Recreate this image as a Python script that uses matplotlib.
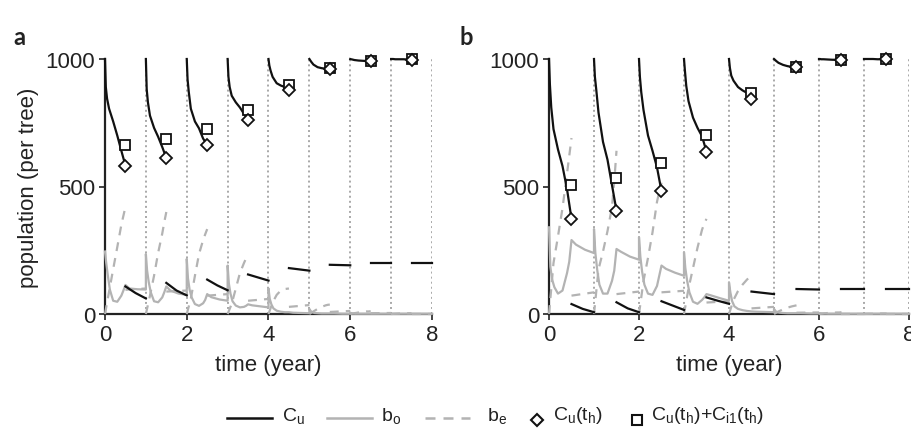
import numpy as np
import matplotlib
matplotlib.use("Agg")
import matplotlib.pyplot as plt
from matplotlib.lines import Line2D

plt.rcParams['font.family'] = ['Liberation Sans', 'DejaVu Sans']
plt.rcParams['mathtext.fontset'] = 'custom'
plt.rcParams['mathtext.rm'] = 'Liberation Sans'
plt.rcParams['mathtext.it'] = 'Liberation Sans'

# ---- data ----
years = [0, 1, 2, 3, 4, 5, 6, 7]
year_lines = [1, 2, 3, 4, 5, 6, 7, 8]

# time inside a year for each kind of curve
tau_cu = [0, 0.02, 0.05, 0.1, 0.2, 0.3, 0.4, 0.5]
tau_post = [0.5, 0.75, 1.0]
tau_bo = [0, 0.03, 0.07, 0.12, 0.2, 0.3, 0.4, 0.45, 0.5, 0.6, 0.8, 1.0]
tau_be = [0, 0.1, 0.2, 0.3, 0.4, 0.45, 0.5]
tau_be_post = [0.5, 1.0]

# panel a
cu_pre_a = [
    [1000, 890, 845, 805, 755, 700, 640, 582],
    [1000, 882, 830, 778, 730, 695, 655, 612],
    [1000, 920, 870, 805, 755, 728, 688, 664],
    [1000, 930, 890, 856, 830, 810, 785, 762],
    [1000, 975, 955, 930, 905, 896, 890, 880],
    [1000, 995, 988, 978, 968, 964, 962, 961],
    [1000, 999, 998, 996, 994, 993, 992, 991],
    [1000, 1000, 1000, 999, 999, 999, 998, 998],
]
cu_post_a = [[108, 82, 61], [122, 92, 73], [135, 112, 93], [155, 143, 131],
             [180, 175, 170], [193, 192, 191], [199, 199, 199], [200, 200, 200]]
bo_a = [
    [245, 200, 150, 95, 52, 48, 72, 92, 114, 100, 97, 96],
    [235, 170, 125, 85, 50, 46, 65, 85, 108, 92, 80, 75],
    [216, 140, 95, 65, 39, 32, 42, 55, 78, 66, 57, 52],
    [190, 120, 80, 50, 33, 26, 28, 32, 38, 34, 30, 26],
    [100, 60, 38, 22, 13, 9, 7, 7, 7, 5, 4, 3],
    [20, 12, 7, 4, 3, 2, 2, 2, 2, 2, 1, 1],
    [5, 3, 2, 1, 1, 1, 1, 1, 1, 1, 1, 1],
    [2, 1, 1, 1, 1, 1, 1, 1, 1, 1, 1, 1],
]
be_pre_a = [
    [0, 88, 176, 262, 350, 385, 420],
    [0, 72, 150, 240, 315, 360, 400],
    [0, 60, 150, 235, 290, 312, 333],
    [0, 40, 100, 160, 200, 218, 232],
    [0, 45, 75, 92, 98, 99, 100],
    [0, 10, 20, 28, 34, 36, 37],
    [0, 3, 6, 8, 10, 10, 11],
    [0, 1, 2, 3, 3, 3, 3],
]
be_post_a = [[95, 100], [88, 92], [72, 78], [52, 59], [28, 35], [8, 12], [3, 4], [1, 1]]
cu_th_a = [582, 612, 664, 762, 880, 961, 991, 998]
cu_ci_a = [664, 686, 725, 800, 898, 966, 993, 999]

# panel b
cu_pre_b = [
    [1000, 900, 810, 725, 645, 580, 490, 373],
    [1000, 930, 880, 790, 675, 605, 505, 405],
    [1000, 930, 870, 800, 700, 640, 575, 481],
    [1000, 955, 895, 835, 770, 730, 697, 637],
    [1000, 965, 935, 915, 890, 877, 867, 843],
    [1000, 997, 992, 985, 977, 972, 969, 967],
    [1000, 1000, 999, 999, 998, 997, 997, 996],
    [1000, 1000, 1000, 1000, 1000, 999, 999, 999],
]
cu_post_b = [[39, 20, 7], [46, 22, 7], [50, 33, 16], [65, 52, 40],
             [88, 83, 78], [98, 97, 96], [100, 100, 100], [100, 100, 100]]
bo_b = [
    [340, 185, 135, 105, 80, 92, 160, 205, 290, 272, 252, 239],
    [333, 240, 175, 115, 80, 80, 130, 170, 255, 244, 225, 213],
    [301, 225, 165, 115, 80, 75, 110, 150, 190, 177, 162, 150],
    [242, 180, 130, 85, 48, 40, 55, 65, 78, 73, 62, 52],
    [124, 85, 50, 30, 20, 15, 12, 11, 10, 9, 8, 7],
    [20, 12, 7, 5, 4, 3, 3, 3, 3, 3, 2, 2],
    [4, 3, 2, 2, 1, 1, 1, 1, 1, 1, 1, 1],
    [2, 1, 1, 1, 1, 1, 1, 1, 1, 1, 1, 1],
]
be_pre_b = [
    [0, 200, 305, 415, 550, 620, 690],
    [0, 175, 245, 325, 420, 520, 640],
    [0, 130, 220, 320, 440, 480, 515],
    [0, 100, 180, 260, 330, 355, 373],
    [0, 55, 90, 115, 135, 143, 150],
    [0, 10, 18, 25, 30, 32, 34],
    [0, 2, 4, 5, 6, 6, 7],
    [0, 1, 1, 1, 2, 2, 2],
]
be_post_b = [[72, 85], [78, 88], [85, 91], [45, 50], [22, 28], [5, 6], [1, 1], [0, 0]]
cu_th_b = [373, 405, 481, 637, 843, 967, 996, 999]
cu_ci_b = [507, 532, 591, 702, 865, 970, 998, 1000]

BLACK = '#111111'
GRAY = '#b3b3b3'
DOT = '#a8a8a8'
TXT = '#222222'
FS = 16
DASH = (4, 3.2)


def draw_panel(ax, cu_pre, cu_post, bo, be_pre, be_post, cu_th, cu_ci):
    for yl in year_lines:
        ax.axvline(yl, ls=(0, (1, 1.6)), color=DOT, lw=1.4, zorder=1)

    # b_o is one continuous curve (jumps at the start of each year)
    t_bo = np.concatenate([np.array(tau_bo) + k for k in years])
    v_bo = np.concatenate(bo)
    ax.plot(t_bo, v_bo, color=GRAY, lw=1.6, zorder=3, clip_on=False)

    for k in years:
        ax.plot(np.array(tau_be) + k, be_pre[k], color=GRAY, lw=1.6,
                dashes=DASH, zorder=3, clip_on=False)
        ax.plot(np.array(tau_be_post) + k, be_post[k], color=GRAY, lw=1.6,
                dashes=DASH, zorder=3, clip_on=False)
        ax.plot(np.array(tau_cu) + k, cu_pre[k], color=BLACK, lw=1.6,
                zorder=4, clip_on=False)
        ax.plot(np.array(tau_post) + k, cu_post[k], color=BLACK, lw=1.6,
                zorder=4, clip_on=False)

    th = np.array(years) + 0.5
    ax.plot(th, cu_ci, ls='none', marker='s', ms=6.5, mfc='white',
            mec=BLACK, mew=1.3, zorder=5, clip_on=False)
    ax.plot(th, cu_th, ls='none', marker='D', ms=6, mfc='white',
            mec=BLACK, mew=1.3, zorder=6, clip_on=False)

    ax.set_xlim(0, 8)
    ax.set_ylim(0, 1000)
    ax.set_xticks([0, 2, 4, 6, 8])
    ax.set_yticks([0, 500, 1000])
    for s in ['top', 'right']:
        ax.spines[s].set_visible(False)
    for s in ['left', 'bottom']:
        ax.spines[s].set_linewidth(1.6)
        ax.spines[s].set_color(TXT)
    ax.tick_params(direction='out', length=4, width=1.2, colors=TXT,
                   labelsize=FS, pad=3)
    ax.set_xlabel('time (year)', fontsize=FS, color=TXT, labelpad=7)


fig = plt.figure(figsize=(9.12, 4.39), dpi=100)
ax_a = fig.add_axes([105 / 912, 1 - 315 / 439, 327 / 912, 255 / 439])
ax_b = fig.add_axes([549 / 912, 1 - 315 / 439, 360 / 912, 255 / 439])

draw_panel(ax_a, cu_pre_a, cu_post_a, bo_a, be_pre_a, be_post_a, cu_th_a, cu_ci_a)
draw_panel(ax_b, cu_pre_b, cu_post_b, bo_b, be_pre_b, be_post_b, cu_th_b, cu_ci_b)
ax_a.set_ylabel('population (per tree)', fontsize=FS, color=TXT, labelpad=5)

fig.text(13 / 912, 1 - 45 / 439, 'a', fontsize=17, fontweight='bold',
         family='Lato', color=TXT)
fig.text(460 / 912, 1 - 45 / 439, 'b', fontsize=17, fontweight='bold',
         family='Lato', color=TXT)

# legend drawn by hand along the bottom
W, H = 912, 439
ly = 1 - 419 / H
ty = 1 - 416 / H


def leg_line(x0, x1, **kw):
    fig.add_artist(Line2D([x0 / W, x1 / W], [ly, ly], transform=fig.transFigure, **kw))


def leg_mark(x, **kw):
    fig.add_artist(Line2D([x / W], [ly - 0.004], transform=fig.transFigure,
                          ls='none', **kw))


def leg_text(x, s):
    fig.text(x / W, ty, s, fontsize=14, color=TXT, va='center', ha='left')


leg_line(227, 272, color=BLACK, lw=1.8)
leg_text(282, r'C$_\mathregular{u}$')
leg_line(327, 372, color=GRAY, lw=1.8)
leg_text(381, r'b$_\mathregular{o}$')
leg_line(425, 470, color=GRAY, lw=1.8, dashes=DASH)
leg_text(487, r'b$_\mathregular{e}$')
leg_mark(537, marker='D', ms=6, mfc='white', mec=BLACK, mew=1.5)
leg_text(553, r'C$_\mathregular{u}$(t$_\mathregular{h}$)')
leg_mark(637, marker='s', ms=6.5, mfc='white', mec=BLACK, mew=1.5)
leg_text(651, r'C$_\mathregular{u}$(t$_\mathregular{h}$)+C$_\mathregular{i1}$(t$_\mathregular{h}$)')

fig.savefig('out.png', dpi=100)
